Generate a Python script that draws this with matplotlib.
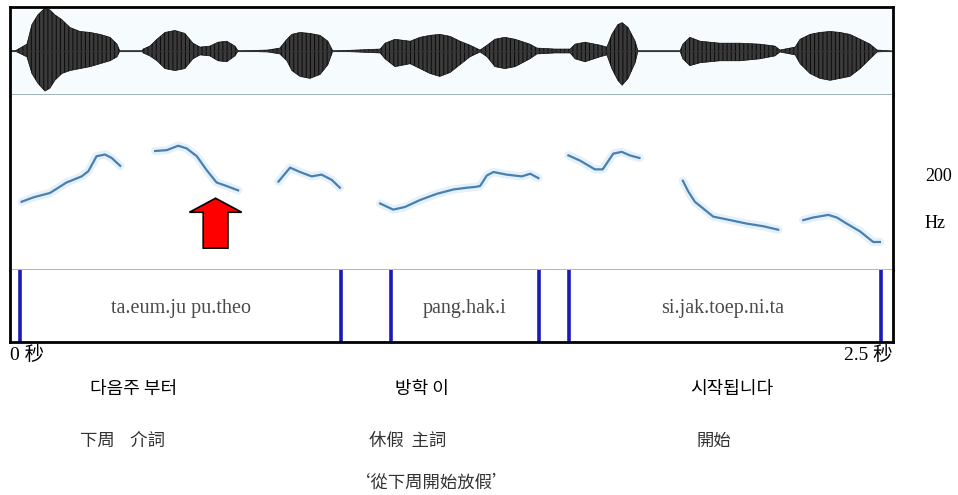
import matplotlib.pyplot as plt
from matplotlib.patches import FancyArrow

# ---- data ----
# waveform envelope: time (s), upper and lower amplitude (arbitrary units)
wave_t = [0.000, 0.014, 0.048, 0.062, 0.079, 0.099, 0.113, 0.127, 0.147, 0.170, 0.198, 0.227,
          0.255, 0.283, 0.303, 0.311, 0.374, 0.377, 0.396, 0.416, 0.439, 0.467, 0.495, 0.518,
          0.538, 0.566, 0.589, 0.614, 0.637, 0.646, 0.730, 0.764, 0.784, 0.798, 0.821, 0.849,
          0.878, 0.900, 0.914, 0.982, 1.048, 1.062, 1.090, 1.133, 1.161, 1.189, 1.217, 1.246,
          1.274, 1.302, 1.325, 1.331, 1.351, 1.373, 1.401, 1.430, 1.472, 1.492, 1.543, 1.586,
          1.600, 1.628, 1.670, 1.690, 1.704, 1.721, 1.733, 1.750, 1.770, 1.778, 1.897, 1.905,
          1.925, 1.954, 2.010, 2.067, 2.123, 2.166, 2.180, 2.223, 2.237, 2.265, 2.293, 2.322,
          2.350, 2.378, 2.407, 2.435, 2.455, 2.500]
wave_up = [0, 0, 7, 27, 37, 44, 42, 37, 32, 24, 20, 19, 17, 14, 7, 0, 0, 2, 5, 12, 19, 21,
           18, 8, 4, 5, 9, 10, 5, 0, 1, 3, 12, 17, 19, 18, 16, 10, 0, 1, 2, 8, 12, 10, 14, 16,
           17, 15, 10, 6, 2, 1, 6, 12, 14, 12, 7, 3, 2, 2, 7, 9, 6, 4, 17, 27, 29, 24, 10, 0,
           0, 7, 14, 10, 8, 8, 7, 5, 1, 4, 12, 17, 19, 20, 19, 17, 12, 7, 1, 0]
wave_lo = [0, 0, 6, 23, 33, 41, 38, 30, 23, 20, 18, 16, 13, 10, 6, 0, 0, 2, 5, 10, 18, 20,
           18, 8, 4, 5, 10, 11, 5, 0, 1, 3, 10, 20, 26, 28, 24, 14, 0, 1, 2, 8, 16, 13, 18, 23,
           26, 22, 14, 6, 2, 1, 6, 16, 18, 16, 8, 3, 2, 2, 8, 11, 6, 4, 18, 30, 35, 28, 12, 0,
           0, 8, 15, 12, 10, 10, 8, 5, 1, 4, 13, 23, 28, 30, 28, 26, 18, 8, 1, 0]

# pitch contour segments: time (s), F0 (Hz)
f0_t1 = [0.033, 0.066, 0.113, 0.160, 0.203, 0.222, 0.245, 0.269, 0.288, 0.312]
f0_v1 = [178, 183, 188, 200, 207, 213, 230, 232, 228, 219]
f0_t2 = [0.411, 0.444, 0.476, 0.500, 0.529, 0.557, 0.585, 0.613, 0.646]
f0_v2 = [236, 237, 242, 239, 230, 214, 200, 196, 191]
f0_t3 = [0.760, 0.793, 0.821, 0.854, 0.882, 0.911, 0.934]
f0_v3 = [201, 217, 212, 207, 209, 203, 194]
f0_t4 = [1.048, 1.085, 1.118, 1.161, 1.208, 1.255, 1.293, 1.318, 1.331, 1.350, 1.369,
         1.406, 1.449, 1.473, 1.496]
f0_v4 = [176, 169, 172, 180, 187, 192, 194, 195, 196, 208, 212, 209, 207, 210, 205]
f0_t5 = [1.581, 1.614, 1.656, 1.678, 1.708, 1.732, 1.755, 1.782]
f0_v5 = [231, 225, 215, 215, 233, 235, 231, 228]
f0_t6 = [1.905, 1.920, 1.939, 1.991, 2.039, 2.086, 2.133, 2.175]
f0_v6 = [202, 190, 178, 161, 157, 153, 150, 146]
f0_t7 = [2.246, 2.274, 2.317, 2.341, 2.369, 2.407, 2.444, 2.463]
f0_v7 = [157, 160, 163, 160, 153, 144, 132, 132]
f0_segments = [(f0_t1, f0_v1), (f0_t2, f0_v2), (f0_t3, f0_v3), (f0_t4, f0_v4),
               (f0_t5, f0_v5), (f0_t6, f0_v6), (f0_t7, f0_v7)]

# segmentation tier
boundaries = [0.028, 0.937, 1.079, 1.498, 1.583, 2.466]
tier_labels = ['ta.eum.ju pu.theo', 'pang.hak.i', 'si.jak.toep.ni.ta']
tier_label_t = [0.485, 1.288, 2.019]

korean_words = ['다음주 부터', '방학 이', '시작됩니다']
chinese_gloss = ['下周    介詞', '休假  主詞', '開始']
word_x = [0.139, 0.440, 0.764]       # figure-fraction centres of the word columns
gloss_x = [0.128, 0.425, 0.745]
translation = '‘從下周開始放假’'

# ---- figure ----
plt.rcParams['hatch.linewidth'] = 0.7
fig = plt.figure(figsize=(9.58, 4.95), dpi=100)
L, W = 10 / 958, 883 / 958
ax_w = fig.add_axes([L, 1 - 95 / 495, W, 88 / 495])
ax_p = fig.add_axes([L, 1 - 270 / 495, W, 175 / 495], sharex=ax_w)
ax_s = fig.add_axes([L, 1 - 342 / 495, W, 72 / 495], sharex=ax_w)

for ax in (ax_w, ax_p, ax_s):
    ax.set_xlim(0, 2.5)
    ax.set_xticks([])
    ax.set_yticks([])
    for sp in ax.spines.values():
        sp.set_linewidth(2)
        sp.set_color('black')

# waveform
ax_w.set_facecolor('#f6fbfd')
ax_w.fill_between(wave_t, wave_up, [-l for l in wave_lo],
                  facecolor='#3a3a3a', edgecolor='#0a0a0a', hatch='||||', lw=0.5)
ax_w.plot([0, 2.5], [0, 0], color='#333333', lw=0.8)
ax_w.set_ylim(-45, 45)
ax_w.spines['bottom'].set_color('#8fa9b0')
ax_w.spines['bottom'].set_linewidth(1.2)

# pitch
ax_p.set_ylim(100, 300)
ax_p.spines['top'].set_visible(False)
ax_p.spines['bottom'].set_color('#a8a8a8')
ax_p.spines['bottom'].set_linewidth(1.2)
for t, v in f0_segments:
    ax_p.plot(t, v, color='#e4f1fa', lw=6, solid_capstyle='round', zorder=1)
    ax_p.plot(t, v, color='#4a7fae', lw=1.6, zorder=2)

arrow = FancyArrow(0.582, 125, 0, 57, width=0.07, head_width=0.148, head_length=16,
                   length_includes_head=True, facecolor='#ff0000', edgecolor='black', lw=1.2)
ax_p.add_patch(arrow)

# segmentation tier
ax_s.set_ylim(0, 1)
ax_s.spines['top'].set_visible(False)
for b in boundaries:
    ax_s.axvline(b, color='#1a1ab8', lw=2.6)
for t, lab in zip(tier_label_t, tier_labels):
    ax_s.text(t, 0.47, lab, ha='center', va='center', fontsize=14.5,
              family='Liberation Serif', color='#4a4a4a')

# time and frequency labels
serif_cjk = ['Liberation Serif', 'Noto Sans CJK TC']
fig.text(10 / 958, 1 - 355 / 495, '0 秒', ha='left', va='center', fontsize=14, family=serif_cjk)
fig.text(893 / 958, 1 - 355 / 495, '2.5 秒', ha='right', va='center', fontsize=14, family=serif_cjk)
fig.text(925 / 958, 1 - 176 / 495, '200', ha='left', va='center', fontsize=13, family='Liberation Serif')
fig.text(925 / 958, 1 - 224 / 495, 'Hz', ha='left', va='center', fontsize=13, family='Liberation Serif')

# glosses under the figure
for x, w in zip(word_x, korean_words):
    fig.text(x, 1 - 389 / 495, w, ha='center', va='center', fontsize=13, family='Noto Sans CJK KR')
for x, g in zip(gloss_x, chinese_gloss):
    fig.text(x, 1 - 441 / 495, g, ha='center', va='center', fontsize=12.5,
             family='Noto Sans CJK TC', color='#333333')
fig.text(0.450, 1 - 483 / 495, translation, ha='center', va='center', fontsize=12.5,
         family='Noto Sans CJK TC', color='#333333')

fig.savefig('out.png', dpi=100)
